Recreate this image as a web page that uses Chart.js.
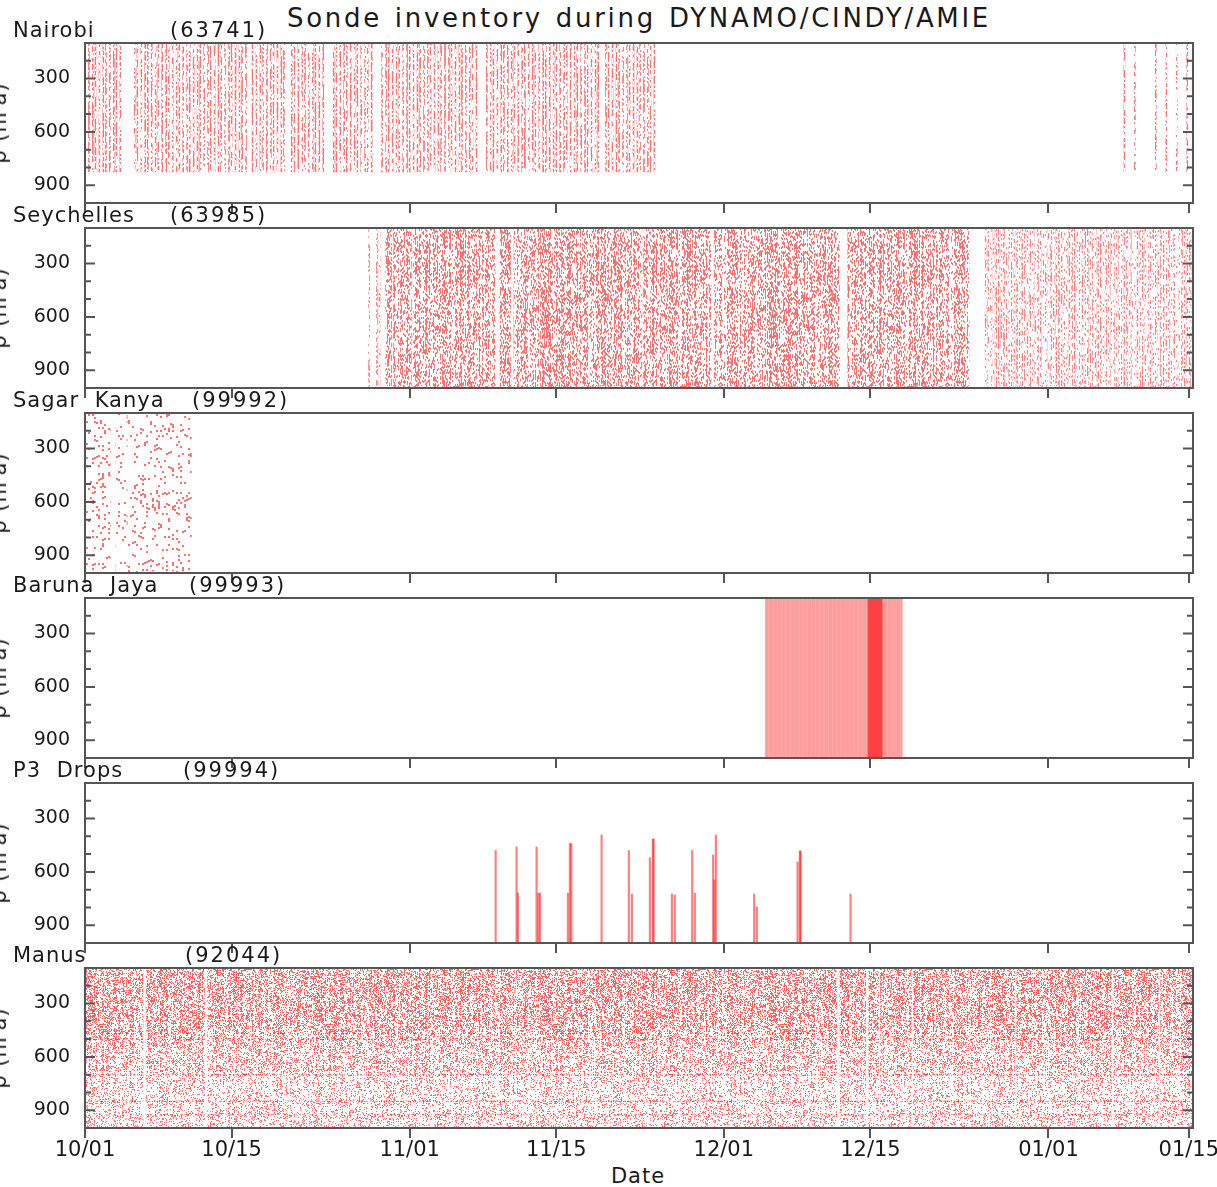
<!DOCTYPE html>
<html>
<head>
<meta charset="utf-8">
<script src="https://cdn.jsdelivr.net/npm/chart.js@4.4.1/dist/chart.umd.min.js"></script>
<style>
html,body{margin:0;padding:0;background:#fff}
#wrap{position:relative;width:1217px;height:1187px;overflow:hidden;font-family:"DejaVu Sans",sans-serif;color:#1a1a1a;background:#fff}
.txt{position:absolute;white-space:nowrap;line-height:1;font-size:21px;letter-spacing:1px;word-spacing:8px}
.id{letter-spacing:2px}
canvas{position:absolute;left:0}
</style>
</head>
<body>
<div id="wrap">
<div class="txt" style="left:639px;top:5px;font-size:26px;letter-spacing:2.7px;word-spacing:2px;transform:translateX(-50%)">Sonde inventory during DYNAMO/CINDY/AMIE</div>
<div class="txt" style="left:638px;top:1166px;transform:translateX(-50%)">Date</div>
</div>
<script>
// ---------------- labels ----------------
const panelNames = ['Nairobi', 'Seychelles', 'Sagar Kanya', 'Baruna Jaya', 'P3 Drops', 'Manus'];
const panelIds = ['(63741)', '(63985)', '(99992)', '(99993)', '(99994)', '(92044)'];
const yAxisTitle = 'p (hPa)';
const xTickDays = [0, 14, 31, 45, 61, 75, 92, 105.4];          // days since 10/01
const xTickLabels = ['10/01', '10/15', '11/01', '11/15', '12/01', '12/15', '01/01', '01/15'];
const yTickValues = [300, 600, 900];
const yMinorTickValues = [200, 400, 500, 700, 800];

// ---------------- data ----------------
// Each string = one day; each character = one launch slot within that day (1 = sounding).
const F = '11111111', N3 = '10010010', S4 = '10101010';

const nairobiStart = 0;
const nairobiSlots = [
  N3, N3, N3, '10010000', '00000010', N3, N3, N3, N3, N3,
  N3, N3, N3, N3, N3, '10010000', N3, N3, N3, '10000010',
  N3, N3, N3, '00000010', N3, N3, N3, '10010000', '00010010', N3,
  N3, N3, N3, N3, N3, N3, N3, '10010000', '00010010', N3,
  N3, N3, N3, N3, N3, N3, N3, N3, N3, '10000010',
  N3, N3, N3, N3, '10010000'
];
const nairobiLateStart = 99;
const nairobiLateSlots = ['00100000', '00100000', '00000000', '00100000', '00100000', '00100000', '00100000'];
const nairobiLevels = [100, 825];

const seychellesStart = 27;
const seychellesSlots = [
  '01000001', '01000011', '11101111', F, '11011111', F, F, F, F, F,
  F, F, '11000111', '11111100', F, F, F, F, F, F,
  F, F, F, F, F, F, '11011111', F, F, F, F, F, '11111110', '01111111',
  F, F, F, F, F, F, F, F, F, F, F, '10000001',
  F, F, F, F, F, F, F, F, F, F, F, '11110000', '00000000',
  S4, S4, S4, S4, S4, S4, S4, S4, S4, S4,
  S4, S4, S4, S4, S4, S4, S4, S4, S4, S4
];
const seychellesLevels = [100, 1000];

const sagarKanyaStart = 0;
const sagarKanyaSlots = [F, F, '11110000', F, '01111111', F, F, F, F, F, '11000000'];
const sagarKanyaLevels = [100, 1000];

const barunaJayaStart = 65;
const barunaJayaSlots = [
  F, F, F, F, F, F, F, F, F,
  '100100100100100100111111', '111111111111111111111111', '111100100100100100100100',
  F, '10000000'
];
const barunaJayaLevels = [100, 1000];

const p3Times = [39.21, 41.21, 41.34, 43.12, 43.29, 43.44, 46.11, 46.30, 46.44, 49.33,
                 51.93, 52.22, 53.94, 54.22, 54.30, 56.04, 56.32, 57.98, 58.23, 59.98,
                 60.10, 60.24, 63.90, 64.15, 68.04, 68.26, 68.33, 73.10];
const p3Tops = [480, 460, 720, 460, 720, 720, 720, 440, 440, 392,
                480, 725, 520, 415, 415, 724, 730, 480, 720, 505,
                645, 392, 724, 797, 545, 482, 482, 724];
const p3Bottom = 1000;

const manusStart = 0;
const manusSlots = [
  F, F, F, F, F, '11111001', F, F, F, F,
  F, '11110011', F, F, F, F, F, F, F, F,
  F, F, F, F, F, F, F, F, F, F,
  F, F, F, F, F, F, F, F, F, F,
  F, F, F, F, F, F, F, F, F, F,
  F, F, F, F, F, F, F, F, F, F,
  F, F, F, F, F, F, F, F, F, F,
  F, '11111110', '01111111', F, '11111001', '11111110', F, F, F, '01111111',
  F, F, F, F, F, F, F, F, '11111110', F,
  F, F, F, F, F, F, F, F, '10111111', F,
  F, F, '11111011', F, F, F
];
const manusUpperLevels = [100, 470];
const manusMiddleLevels = [470, 680];
const manusLowerLevels = [680, 1000];
const manusMandatoryLevels = [500, 700, 850, 925];

// ---------------- layout / style ----------------
const W = 1217, PANEL_TOP0 = 43, PANEL_STEP = 185, PANEL_H = 160, PLOT_LEFT = 85, PLOT_RIGHT = 1193;
const X_MAX = 105.8;
const idLeft = [170, 170, 192, 189, 183, 185];
const FRAME = '#555';

function hash2(x, y) {
  let n = (Math.imul(x, 374761393) + Math.imul(y, 668265263)) | 0;
  n = Math.imul(n ^ (n >>> 13), 1274126177);
  n ^= n >>> 16;
  return (n >>> 0) / 4294967296;
}
// dotted fill texture (style only): dw x dh dot size, spread = column-to-column variation
function dotTexture(density, alpha, dw, dh, spread) {
  const c = document.createElement('canvas');
  c.width = 227; c.height = 163;
  const g = c.getContext('2d');
  const img = g.createImageData(c.width, c.height);
  for (let x = 0; x < c.width; x++) {
    const cx = Math.floor(x / dw);
    const colF = 1 + spread * (hash2(cx, 7777) - 0.5) * 2;
    for (let y = 0; y < c.height; y++) {
      const o = (y * c.width + x) * 4;
      img.data[o] = 255; img.data[o + 1] = 0; img.data[o + 2] = 0;
      const cy = Math.floor((y + (cx % dh)) / dh);
      img.data[o + 3] = hash2(cx, cy) < density * colF ? Math.round(alpha * 255) : 0;
    }
  }
  g.putImageData(img, 0, 0);
  return g.createPattern(c, 'repeat');
}

function soundings(start, slots, levels) {
  const pts = [];
  slots.forEach((s, d) => {
    for (let k = 0; k < s.length; k++) if (s[k] === '1') pts.push({x: start + d + k / s.length, y: [levels[0], levels[1]]});
  });
  return pts;
}
function levelMarks(start, slots, levels) {
  const pts = [];
  levels.forEach(p => pts.push(...soundings(start, slots, [p - 3, p + 3])));
  return pts;
}
function barSet(data, color, thick) {
  return {type: 'bar', data, backgroundColor: color, borderWidth: 0, barThickness: thick || 1, grouped: false};
}

const panelDatasets = [
  [barSet(soundings(nairobiStart, nairobiSlots, nairobiLevels), dotTexture(0.55, 0.55, 1, 2, 0.3)),
   barSet(soundings(nairobiLateStart, nairobiLateSlots, nairobiLevels), dotTexture(0.5, 0.55, 1, 2, 0.3))],
  [barSet(soundings(seychellesStart, seychellesSlots, seychellesLevels), dotTexture(0.36, 0.5, 1, 2, 0.7))],
  [barSet(soundings(sagarKanyaStart, sagarKanyaSlots, sagarKanyaLevels), dotTexture(0.11, 0.5, 2, 2, 0.5))],
  [barSet(soundings(barunaJayaStart, barunaJayaSlots, barunaJayaLevels), 'rgba(255,0,0,0.32)')],
  [barSet(p3Times.map((t, i) => ({x: t, y: [p3Tops[i], p3Bottom]})), 'rgba(255,0,0,0.5)', 1.5)],
  [barSet(levelMarks(manusStart, manusSlots, manusMandatoryLevels), dotTexture(0.5, 0.35, 1, 1, 0.2)),
   barSet(soundings(manusStart, manusSlots, manusUpperLevels), dotTexture(0.36, 0.58, 1, 1, 0.4)),
   barSet(soundings(manusStart, manusSlots, manusMiddleLevels), dotTexture(0.27, 0.55, 1, 1, 0.4)),
   barSet(soundings(manusStart, manusSlots, manusLowerLevels), dotTexture(0.19, 0.52, 1, 1, 0.4))]
];

const framePlugin = {
  id: 'frame',
  afterDraw(chart) {
    const {ctx, chartArea: a} = chart;
    const y = chart.scales.y;
    ctx.save();
    ctx.strokeStyle = FRAME; ctx.lineWidth = 2;
    const tick = (v, len) => {
      const py = y.getPixelForValue(v);
      ctx.beginPath();
      ctx.moveTo(a.left, py); ctx.lineTo(a.left + len, py);
      ctx.moveTo(a.right, py); ctx.lineTo(a.right - len, py);
      ctx.stroke();
    };
    yTickValues.forEach(v => tick(v, 10));
    yMinorTickValues.forEach(v => tick(v, 6));
    ctx.strokeRect(a.left, a.top, a.right - a.left, a.bottom - a.top);
    ctx.restore();
  }
};

const wrap = document.getElementById('wrap');
function addText(str, left, top, cls, extra) {
  const d = document.createElement('div');
  d.className = 'txt' + (cls ? ' ' + cls : ''); d.textContent = str;
  d.style.left = left + 'px'; d.style.top = top + 'px';
  if (extra) Object.assign(d.style, extra);
  wrap.appendChild(d);
}

panelNames.forEach((name, i) => {
  const last = i === panelNames.length - 1;
  const top = PANEL_TOP0 + PANEL_STEP * i;
  const bottomH = last ? 59 : 12;
  const cv = document.createElement('canvas');
  cv.width = W; cv.height = 5 + PANEL_H + bottomH;
  cv.style.top = (top - 5) + 'px';
  wrap.appendChild(cv);

  addText(name, 13, top - 23);
  addText(panelIds[i], idLeft[i], top - 23, 'id');
  addText(yAxisTitle, -11, top + PANEL_H / 2, '', {transformOrigin: '0 0', transform: 'rotate(-90deg) translateX(-50%)', wordSpacing: '0px'});

  new Chart(cv, {
    type: 'bar',
    data: {datasets: panelDatasets[i]},
    options: {
      responsive: false, animation: false, events: [], devicePixelRatio: 1,
      layout: {padding: {top: 5, left: 0, right: W - PLOT_RIGHT, bottom: 0}},
      plugins: {legend: {display: false}, tooltip: {enabled: false}, title: {display: false}},
      scales: {
        x: {
          type: 'linear', position: 'bottom', min: 0, max: X_MAX, offset: false,
          grid: {display: true, offset: false, drawOnChartArea: false, drawTicks: true, tickLength: 10, color: FRAME, lineWidth: 2},
          border: {display: false},
          afterBuildTicks: s => { s.ticks = xTickDays.map(v => ({value: v})); },
          afterFit: s => { s.height = bottomH; s.paddingLeft = 0; s.paddingRight = 0; },
          ticks: {display: last, autoSkip: false, maxRotation: 0, minRotation: 0, padding: 0, color: '#1a1a1a',
                  font: {family: 'DejaVu Sans', size: 21}, callback: (v, idx) => xTickLabels[idx]}
        },
        y: {
          type: 'linear', reverse: true, min: 100, max: 1000, beginAtZero: false,
          grid: {display: false, drawTicks: false}, border: {display: false},
          afterBuildTicks: s => { s.ticks = yTickValues.map(v => ({value: v})); },
          afterFit: s => { s.width = PLOT_LEFT; s.paddingTop = 0; s.paddingBottom = 0; },
          ticks: {padding: 15, color: '#1a1a1a', font: {family: 'DejaVu Sans', size: 19}, callback: v => String(v)}
        }
      }
    },
    plugins: [framePlugin]
  });
});
</script>
</body>
</html>
